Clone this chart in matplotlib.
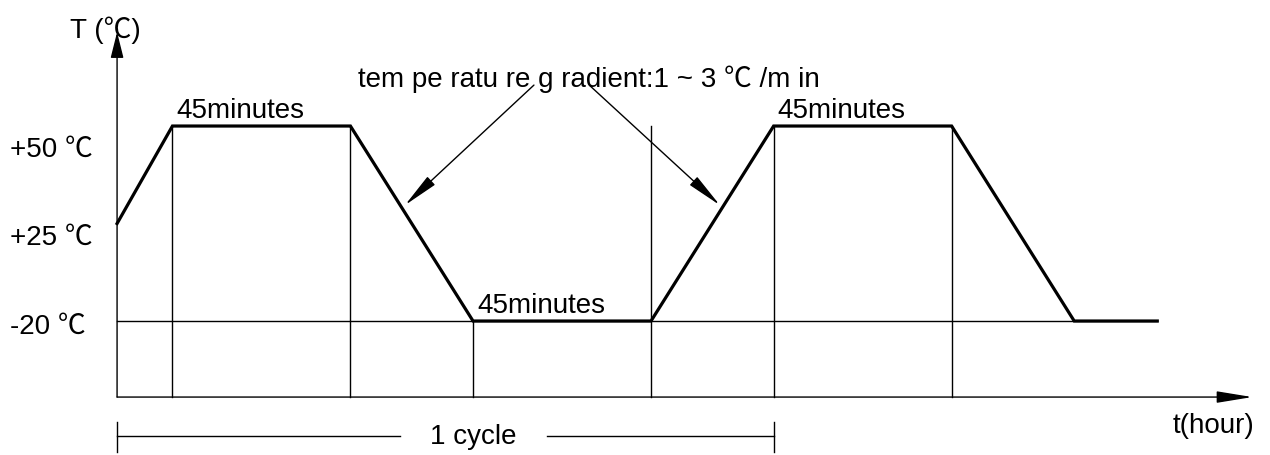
# temperature cycling profile (schematic)
import matplotlib
matplotlib.use("Agg")
import matplotlib.pyplot as plt

plt.rcParams['font.family'] = ['Liberation Sans', 'Noto Sans CJK SC', 'DejaVu Sans']

# profile, time in minutes, temperature as drawn (schematic)
t_profile = [0, 14, 59, 90, 135, 166, 211, 242, 263]
T_profile = [15, 50, 50, -20, -20, 50, 50, -20, -20]

# thin guide lines: time and top level of each vertical
guide_t = [14, 59, 90, 135, 166, 211]
guide_top = [50, 50, -20, 50, 50, 50]
low_level = -20

# level labels on the left and where they sit (level, offset below in pt)
level_labels = ['+50 \u2103', '+25 \u2103', '-20 \u2103']
level_values = [50, 15, -20]
level_offsets = [-16.5, -9.5, -3.5]

# 45 minute holds
hold_starts = [14, 90, 166]
hold_levels = [50, -20, 50]
hold_text = '45minutes'

grad_text = 'tem pe ratu re g radient:1 ~ 3 \u2103 /m in'
cycle_start, cycle_end = 0, 166

axis_floor = -47.3   # where the time axis is
axis_top = 83.7
axis_right = 287

fig = plt.figure(figsize=(12.7, 4.56), dpi=100)
ax = fig.add_axes([0, 0, 1, 1])
ax.set_xlim(-29.6, 291.5)
ax.set_ylim(-68.1, 95.6)
ax.axis('off')

fs = 20
thin = 1.0

# axes with arrows
ax.annotate('', xy=(0, axis_top), xytext=(0, axis_floor),
            arrowprops=dict(arrowstyle='-|>,head_length=0.8,head_width=0.2',
                            mutation_scale=20, color='black', lw=thin,
                            shrinkA=0, shrinkB=0))
ax.annotate('', xy=(axis_right, axis_floor), xytext=(0, axis_floor),
            arrowprops=dict(arrowstyle='-|>,head_length=1.1,head_width=0.18',
                            mutation_scale=20, color='black', lw=thin,
                            shrinkA=0, shrinkB=0))

# guides
ax.plot([0, t_profile[-1]], [low_level, low_level], color='black', lw=thin)
for gt, gtop in zip(guide_t, guide_top):
    ax.plot([gt, gt], [axis_floor, gtop], color='black', lw=thin)

# the profile
ax.plot(t_profile, T_profile, color='black', lw=2.3, solid_joinstyle='miter')

# labels
ax.text(-11.9, 84.8, 'T (\u2103)', fontsize=fs, va='center', ha='left')
for lab, val, off in zip(level_labels, level_values, level_offsets):
    ax.annotate(lab, xy=(-27.0, val), xytext=(0, off), textcoords='offset points',
                fontsize=fs, va='center', ha='left')
for hs, hl in zip(hold_starts, hold_levels):
    ax.annotate(hold_text, xy=(hs, hl), xytext=(3, 6.5), textcoords='offset points',
                fontsize=fs, va='baseline', ha='left')

ax.text(119.3, 64.4, grad_text, fontsize=fs, va='baseline', ha='center')
for start, tip in [((105.4, 64.7), (72.8, 21.6)), ((119.6, 64.4), (152.4, 21.6))]:
    ax.annotate('', xy=tip, xytext=start,
                arrowprops=dict(arrowstyle='-|>,head_length=1.1,head_width=0.17',
                                mutation_scale=20, color='black', lw=thin,
                                shrinkA=0, shrinkB=0))

ax.text(287.5, -57.5, 't(hour)', fontsize=fs, va='center', ha='right')

# 1 cycle bar
cy = -61.3
ax.plot([cycle_start, 71.5], [cy, cy], color='black', lw=thin)
ax.plot([108.7, cycle_end], [cy, cy], color='black', lw=thin)
for x in [cycle_start, cycle_end]:
    ax.plot([x, x], [-56.3, -67.1], color='black', lw=thin)
ax.text(90.1, cy, '1 cycle', fontsize=fs, va='center', ha='center')

fig.savefig('out.png', dpi=100)
